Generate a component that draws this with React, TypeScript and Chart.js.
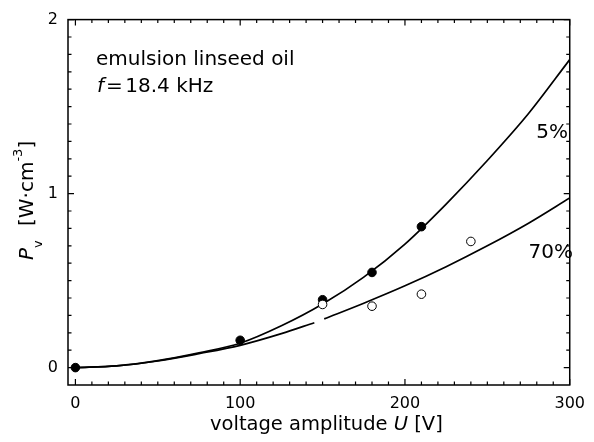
import React, { useEffect, useRef } from 'react';
import { Chart, registerables } from 'chart.js';

Chart.register(...registerables);

// Measured points
const filledU = [0, 100, 150, 180, 210];
const filledP = [0, 0.157, 0.39, 0.547, 0.81];
const openU = [150, 180, 210, 240];
const openP = [0.363, 0.353, 0.422, 0.725];

// Fitted curves
const upperU = [0, 25, 50, 75, 100, 125, 150, 175, 200, 225, 250, 275, 300];
const upperP = [0, 0.01, 0.04, 0.085, 0.14, 0.24, 0.365, 0.52, 0.71, 0.94, 1.19, 1.46, 1.77];
const lowerU = [0, 25, 50, 75, 100, 125, 145, 148, 151, 175, 200, 225, 250, 275, 300];
const lowerP = [0, 0.01, 0.038, 0.08, 0.128, 0.195, 0.258, null, 0.28, 0.37, 0.47, 0.58, 0.7, 0.83, 0.975];

const xMajor = [0, 100, 200, 300];
const yMajor = [0, 1, 2];

const FONT = '"DejaVu Sans", Verdana, sans-serif';

const toXY = (xs: number[], ys: (number | null)[]) => xs.map((x, i) => ({ x, y: ys[i] }));

export default function App() {
  const ref = useRef<HTMLCanvasElement>(null);

  useEffect(() => {
    const canvas = ref.current!;
    const framePlugin = {
      id: 'frame',
      afterDatasetsDraw(chart: any) {
        const { ctx, chartArea: a, scales } = chart;
        const xs = scales.x, ys = scales.y;
        ctx.save();
        ctx.strokeStyle = '#000';
        ctx.lineWidth = 1.5;
        ctx.strokeRect(a.left, a.top, a.right - a.left, a.bottom - a.top);
        ctx.lineWidth = 1.2;
        ctx.beginPath();
        for (let v = 0; v <= 300; v += 10) {
          const px = xs.getPixelForValue(v);
          const len = xMajor.includes(v) ? 6 : 3.5;
          ctx.moveTo(px, a.bottom); ctx.lineTo(px, a.bottom - len);
          ctx.moveTo(px, a.top); ctx.lineTo(px, a.top + len);
        }
        for (let k = 0; k <= 20; k++) {
          const v = k / 10;
          const py = ys.getPixelForValue(v);
          const len = yMajor.includes(v) ? 6 : 3.5;
          ctx.moveTo(a.left, py); ctx.lineTo(a.left + len, py);
          ctx.moveTo(a.right, py); ctx.lineTo(a.right - len, py);
        }
        ctx.stroke();
        ctx.restore();
      },
      afterDraw(chart: any) {
        const { ctx } = chart;
        ctx.save();
        ctx.fillStyle = '#000';
        ctx.textBaseline = 'alphabetic';
        ctx.textAlign = 'left';

        // annotation
        ctx.font = `20px ${FONT}`;
        ctx.fillText('emulsion linseed oil', 96, 65);
        ctx.font = `italic 20px ${FONT}`;
        ctx.fillText('f', 97, 92);
        ctx.font = `20px ${FONT}`;
        ctx.fillText('=', 106, 92);
        const we = ctx.measureText('=').width;
        ctx.fillText('18.4 kHz', 106 + we + 2.5, 92);

        // curve labels
        ctx.textAlign = 'right';
        ctx.fillText('5%', 568, 138);
        ctx.fillText('70%', 573, 258);
        ctx.textAlign = 'left';

        // x title
        ctx.font = `19.5px ${FONT}`;
        let x = 210;
        ctx.fillText('voltage amplitude ', x, 430);
        x += ctx.measureText('voltage amplitude ').width;
        ctx.font = `italic 19.5px ${FONT}`;
        ctx.fillText('U', x, 430);
        x += ctx.measureText('U').width;
        ctx.font = `19.5px ${FONT}`;
        ctx.fillText(' [V]', x, 430);

        // y title
        ctx.translate(33, 260);
        ctx.rotate(-Math.PI / 2);
        ctx.font = `italic 20px ${FONT}`;
        ctx.fillText('P', 0, 0);
        const wp = ctx.measureText('P').width;
        ctx.font = `13px ${FONT}`;
        ctx.fillText('v', wp, 9);
        ctx.font = `20px ${FONT}`;
        ctx.fillText('[W·cm', 34, 0);
        const w1 = ctx.measureText('[W·cm').width;
        ctx.font = `13px ${FONT}`;
        ctx.fillText('-3', 34 + w1, -11);
        const w2 = ctx.measureText('-3').width;
        ctx.font = `20px ${FONT}`;
        ctx.fillText(']', 34 + w1 + w2, 0);
        ctx.restore();
      },
    };

    const chart = new Chart(canvas, {
      type: 'scatter',
      data: {
        datasets: [
          {
            label: '70% data',
            data: toXY(openU, openP),
            pointRadius: 4.3,
            pointBackgroundColor: '#fff',
            pointBorderColor: '#000',
            pointBorderWidth: 1,
            showLine: false,
          },
          {
            label: '5% data',
            data: toXY(filledU, filledP),
            pointRadius: 4.3,
            pointBackgroundColor: '#000',
            pointBorderColor: '#000',
            pointBorderWidth: 1,
            showLine: false,
          },
          {
            label: '5% fit',
            data: toXY(upperU, upperP),
            showLine: true,
            borderColor: '#000',
            borderWidth: 1.7,
            pointRadius: 0,
            cubicInterpolationMode: 'monotone',
            spanGaps: false,
          },
          {
            label: '70% fit',
            data: toXY(lowerU, lowerP),
            showLine: true,
            borderColor: '#000',
            borderWidth: 1.7,
            pointRadius: 0,
            cubicInterpolationMode: 'monotone',
            spanGaps: false,
          },
        ] as any,
      },
      options: {
        responsive: false,
        animation: false,
        layout: { padding: { top: 19, right: 22, left: 0, bottom: 0 } },
        plugins: { legend: { display: false }, tooltip: { enabled: false } },
        scales: {
          x: {
            type: 'linear',
            min: -4.5,
            max: 300,
            grid: { display: false, drawTicks: false },
            border: { display: false },
            ticks: {
              autoSkip: false,
              maxRotation: 0,
              padding: 9,
              color: '#000',
              font: { family: FONT, size: 16 },
              callback: (v: any) => String(v),
            },
            afterBuildTicks: (s: any) => { s.ticks = xMajor.map((v) => ({ value: v })); },
            afterFit: (s: any) => { s.height = 57; },
          },
          y: {
            type: 'linear',
            min: -0.1,
            max: 2,
            grid: { display: false, drawTicks: false },
            border: { display: false },
            ticks: {
              autoSkip: false,
              padding: 10,
              color: '#000',
              font: { family: FONT, size: 16 },
              callback: (v: any) => String(v),
            },
            afterBuildTicks: (s: any) => { s.ticks = yMajor.map((v) => ({ value: v })); },
            afterFit: (s: any) => { s.width = 68; },
          },
        },
      } as any,
      plugins: [framePlugin],
    });
    return () => chart.destroy();
  }, []);

  return (
    <div style={{ position: 'absolute', left: 0, top: 0, width: 594, height: 442 }}>
      <canvas ref={ref} width={594} height={442} style={{ display: 'block' }} />
    </div>
  );
}
